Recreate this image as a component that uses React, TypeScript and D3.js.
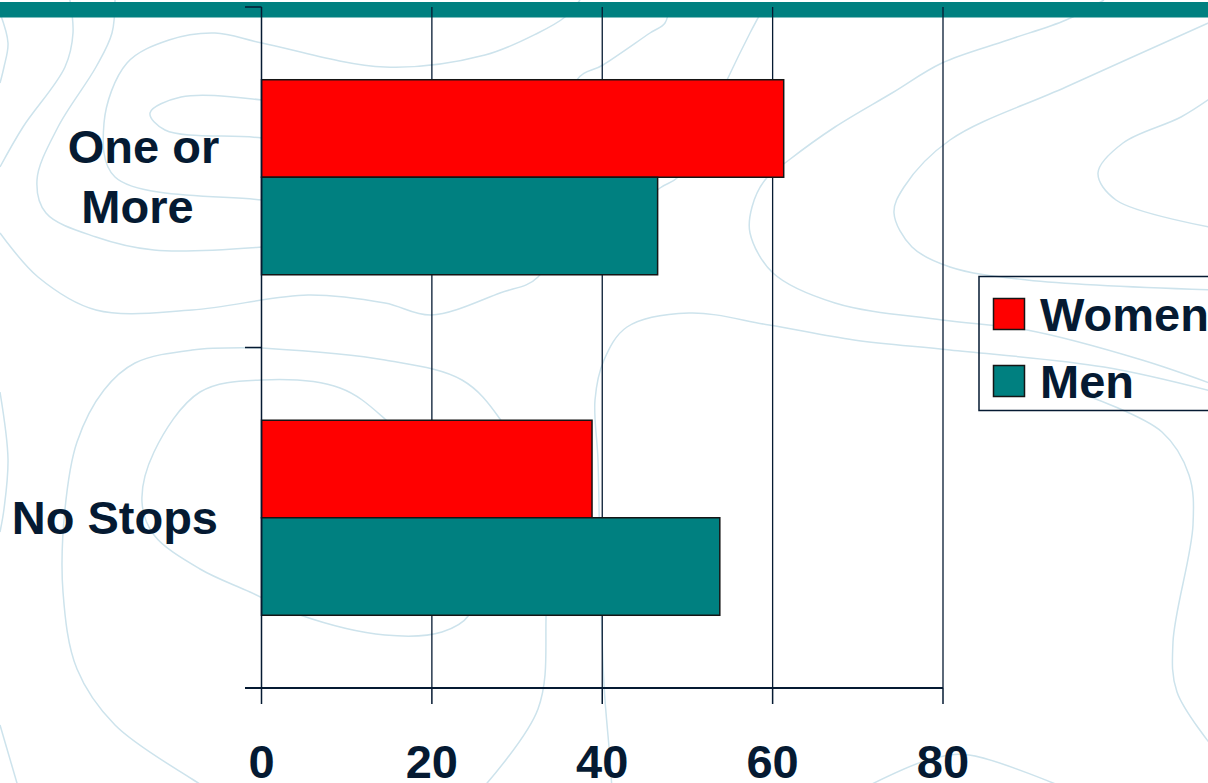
import React from "react";
import * as d3 from "d3";

// Survey shares (%) by number of stops
const categories = ["One or More", "No Stops"];
const categoryLines = [["One or", "More"], ["No Stops"]];
const seriesNames = ["Women", "Men"];
const womenValues = [61.3, 38.8];
const menValues = [46.5, 53.8];
const xTicks = [0, 20, 40, 60, 80];

const seriesColors = ["#ff0000", "#008080"];
const ink = "#051a32";

// Decorative topographic lines in the slide background
const contourOpen: [number, number][][] = [
  [[0, 13], [8, 43], [4, 67], [0, 83]],
  [[69, -5], [73, 33], [65, 67], [23, 127], [0, 167]],
  [[115, -5], [112, 33], [96, 67], [58, 127], [37, 180], [46, 213], [96, 237], [154, 250], [262, 247], [320, 240]],
  [[330, 112], [262, 100], [181, 97], [150, 113], [165, 130], [262, 138], [330, 150]],
  [[330, 205], [262, 200], [115, 177], [104, 123], [127, 63], [169, 40], [215, 33], [262, 43], [385, 67], [485, 55], [538, 33], [565, 17], [580, 0]],
  [[0, 233], [38, 277], [96, 310], [192, 310], [308, 295], [385, 303], [431, 315], [500, 293], [538, 277], [570, 200], [577, 80], [603, 65], [650, 33], [665, 23], [669, 5]],
  [[765, 5], [750, 33], [727, 80], [700, 140], [677, 178], [660, 188], [630, 220]],
  [[1104, 0], [1066, 20], [1008, 40], [942, 63], [892, 93], [835, 127], [789, 160], [765, 180], [752, 207], [750, 233], [773, 273], [835, 303], [942, 320], [1027, 330], [1142, 360], [1215, 385]],
  [[1215, 20], [1066, 87], [950, 140], [904, 187], [894, 213], [912, 247], [950, 267], [1027, 280], [1215, 290]],
  [[1215, 95], [1181, 117], [1123, 143], [1098, 173], [1116, 200], [1215, 228]],
  [[1215, 392], [1104, 367], [950, 350], [854, 340], [769, 325], [689, 313], [627, 327], [604, 360], [595, 400], [598, 460], [600, 560], [604, 685], [610, 759], [612, 790]],
  [[0, 392], [8, 459], [4, 509], [0, 532]],
  [[262, 348], [192, 350], [135, 363], [104, 390], [77, 442], [65, 509], [63, 592], [77, 669], [115, 725], [192, 779], [210, 790]],
  [[262, 348], [385, 360], [462, 380], [500, 419], [540, 500], [546, 619], [538, 709], [481, 790]],
  [[0, 725], [19, 790]],
  [[1085, 395], [1162, 432], [1189, 475], [1193, 525], [1173, 642], [1177, 692], [1215, 750]],
  [[860, 790], [931, 759], [969, 755], [1070, 790]],
];
const contourClosed: [number, number][][] = [
  [[262, 380], [340, 388], [385, 419], [440, 480], [480, 560], [469, 615], [442, 632], [385, 635], [300, 615], [250, 592], [200, 569], [154, 535], [142, 502], [154, 452], [200, 392]],
];

const W = 1208;
const H = 783;

export default function App() {
  const x = d3.scaleLinear().domain([0, 80]).range([261.5, 943]);
  const y = d3.scaleBand<string>().domain(categories).range([7, 688]).paddingInner(0).paddingOuter(0);
  const ySub = d3
    .scaleBand<string>()
    .domain(seriesNames)
    .range([0, y.bandwidth()])
    .paddingInner(0)
    .paddingOuter(0.746);

  const seriesValues = [womenValues, menValues];

  const openLine = d3.line<[number, number]>().curve(d3.curveCatmullRom.alpha(0.5));
  const closedLine = d3.line<[number, number]>().curve(d3.curveCatmullRomClosed.alpha(0.5));

  const font = "'Liberation Sans', Arial, Helvetica, sans-serif";
  const boundaries = [7, ...categories.map((c) => (y(c) as number) + y.bandwidth())];

  return (
    <svg
      width={W}
      height={H}
      style={{ position: "absolute", left: 0, top: 0, display: "block", background: "#ffffff" }}
      fontFamily={font}
    >
      <rect x={0} y={0} width={W} height={H} fill="#ffffff" />
      <g fill="none" stroke="#cde3ec" strokeWidth={1.5}>
        {contourOpen.map((pts, i) => (
          <path key={`o${i}`} d={openLine(pts) || ""} />
        ))}
        {contourClosed.map((pts, i) => (
          <path key={`c${i}`} d={closedLine(pts) || ""} />
        ))}
      </g>

      {/* title band */}
      <rect x={0} y={2} width={W} height={15.5} fill="#008080" />

      {/* vertical gridlines */}
      <g stroke={ink} strokeWidth={1.3}>
        {xTicks.slice(1).map((t) => (
          <line key={t} x1={x(t)} x2={x(t)} y1={7} y2={688} />
        ))}
      </g>

      {/* bars */}
      <g stroke="#151515" strokeWidth={1.5}>
        {categories.map((c, ci) =>
          seriesNames.map((s, si) => (
            <rect
              key={`${c}-${s}`}
              x={x(0)}
              y={(y(c) as number) + (ySub(s) as number)}
              width={x(seriesValues[si][ci]) - x(0)}
              height={ySub.bandwidth()}
              fill={seriesColors[si]}
            />
          ))
        )}
      </g>

      {/* axes */}
      <g stroke={ink} strokeWidth={1.5}>
        <line x1={x(0)} x2={x(0)} y1={7} y2={688} />
        <line x1={245} x2={x(80)} y1={688} y2={688} strokeWidth={2} />
        {boundaries.map((b, i) => (
          <line key={`yt${i}`} x1={245} x2={x(0)} y1={b} y2={b} />
        ))}
        {xTicks.map((t) => (
          <line key={`xt${t}`} x1={x(t)} x2={x(t)} y1={688} y2={704} />
        ))}
      </g>

      {/* tick labels */}
      <g fill={ink} fontWeight="bold" fontSize={47} textAnchor="middle">
        {xTicks.map((t) => (
          <text key={t} x={x(t)} y={778}>
            {t}
          </text>
        ))}
      </g>

      {/* category labels */}
      <g fill={ink} fontWeight="bold" fontSize={47}>
        {categories.map((c, ci) => {
          const cy = (y(c) as number) + y.bandwidth() / 2;
          const lines = categoryLines[ci];
          if (lines.length === 1) {
            return (
              <text key={c} x={218} y={cy + 16.5} textAnchor="end">
                {lines[0]}
              </text>
            );
          }
          return (
            <g key={c}>
              <text x={143.5} y={cy - 14.5} textAnchor="middle">
                {lines[0]}
              </text>
              <text x={137.5} y={cy + 45.5} textAnchor="middle">
                {lines[1]}
              </text>
            </g>
          );
        })}
      </g>

      {/* legend */}
      <g>
        <rect x={979} y={276.5} width={260} height={134} fill="none" stroke={ink} strokeWidth={1.5} />
        {seriesNames.map((s, si) => (
          <g key={s} transform={`translate(0, ${si * 67})`}>
            <rect x={993.5} y={298.5} width={31} height={31} fill={seriesColors[si]} stroke="#151515" strokeWidth={1.5} />
            <text x={1040} y={330.5} fill={ink} fontWeight="bold" fontSize={47}>
              {s}
            </text>
          </g>
        ))}
      </g>
    </svg>
  );
}
